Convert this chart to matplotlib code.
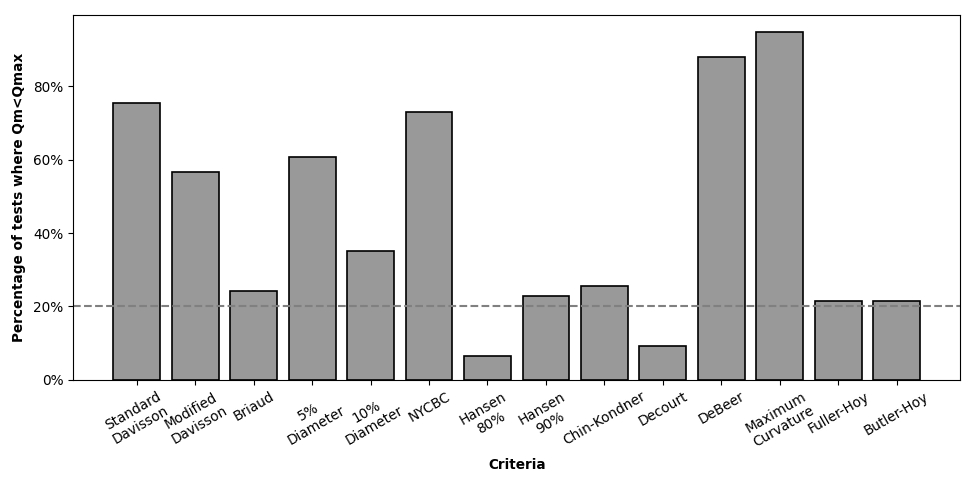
#!/usr/bin/env python3
import matplotlib
matplotlib.use("Agg")
import matplotlib.pyplot as plt
from matplotlib.ticker import PercentFormatter

# ====== Data ======
criteria = ["Standard\nDavisson", "Modified\nDavisson", "Briaud", "5%\nDiameter",
            "10%\nDiameter", "NYCBC", "Hansen\n80%", "Hansen\n90%", "Chin-Kondner",
            "Decourt", "DeBeer", "Maximum\nCurvature", "Fuller-Hoy", "Butler-Hoy"]
fraction = [0.756, 0.566, 0.242, 0.607, 0.351, 0.729, 0.066, 0.229, 0.256,
            0.093, 0.879, 0.947, 0.215, 0.215]
threshold = 0.20
# ==================

FS = 9.8


def plot():
    fig, ax = plt.subplots(figsize=(9.74, 4.87), dpi=100)
    x = range(len(criteria))
    ax.bar(x, fraction, width=0.8, color='#999999', edgecolor='black', linewidth=1.2)
    ax.axhline(threshold, color='gray', linestyle='--', linewidth=1.5)

    ax.set_xticks(list(x))
    ax.set_xticklabels(criteria, rotation=30, fontsize=FS)
    ax.tick_params(axis='y', labelsize=FS)
    ax.yaxis.set_major_formatter(PercentFormatter(1.0, decimals=0))
    ax.set_ylabel('Percentage of tests where Qm<Qmax', fontsize=FS, fontweight='bold', labelpad=5)
    ax.set_xlabel('Criteria', fontsize=FS, fontweight='bold', labelpad=6)

    fig.subplots_adjust(left=0.075, right=0.986, top=0.969, bottom=0.22)
    fig.savefig('out.png', dpi=100)


if __name__ == '__main__':
    plot()
